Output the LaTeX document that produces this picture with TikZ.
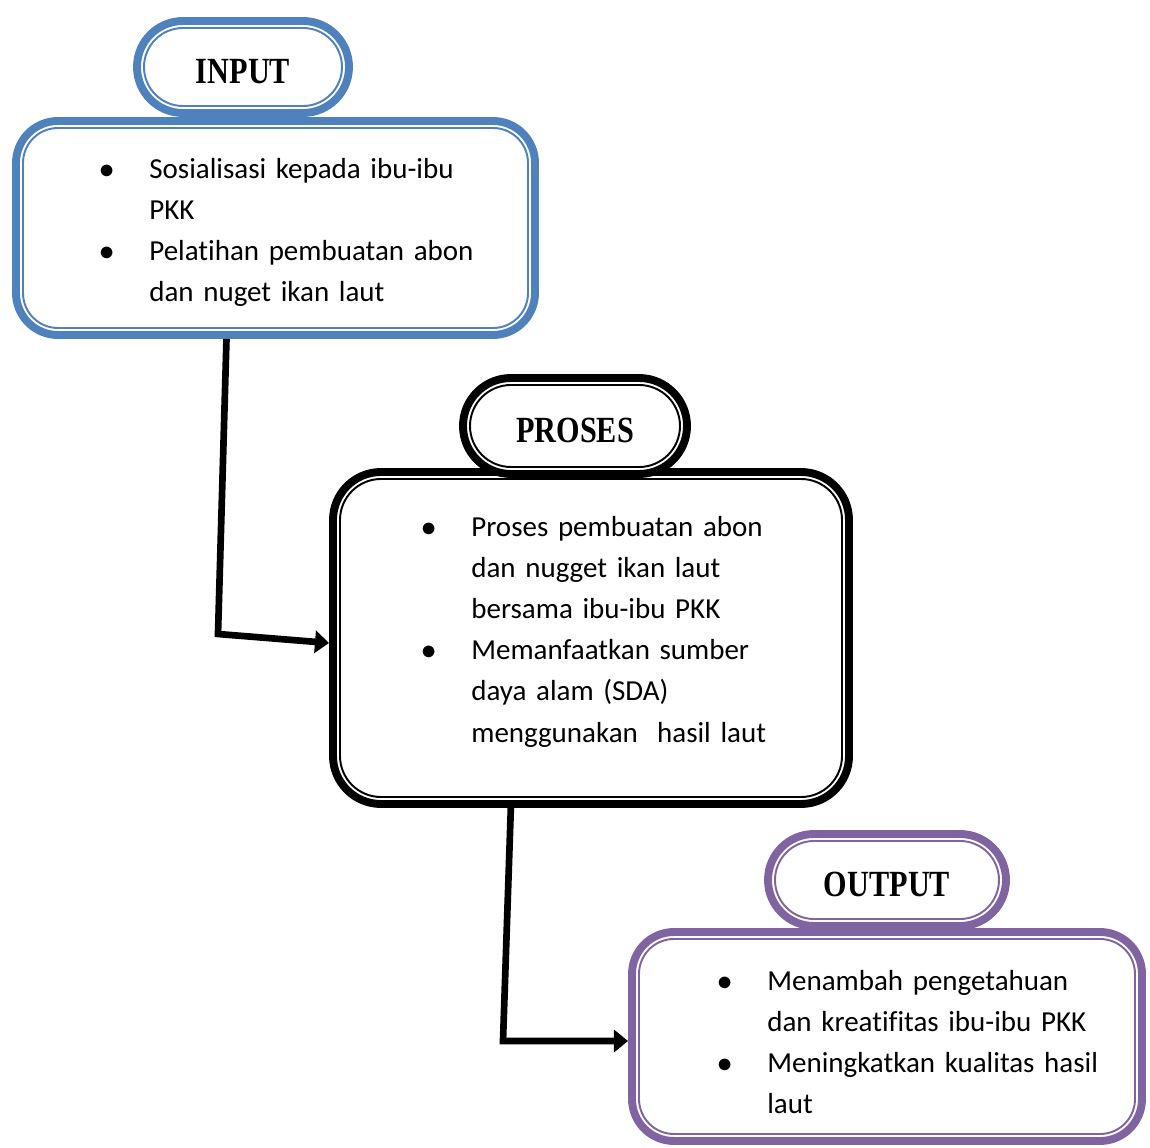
\documentclass[tikz,border=0pt]{standalone}
\usepackage{fontspec}
\setmainfont{Carlito}[Ligatures=NoCommon]
\newfontfamily\titlefont[FakeStretch=0.82]{Liberation Serif}
\usepackage{enumitem}
\usetikzlibrary{calc, arrows.meta}
\definecolor{inblue}{RGB}{79,129,189}
\definecolor{outviolet}{RGB}{128,100,162}

\begin{document}
\begin{tikzpicture}[x=0.02cm, y=-0.02cm,
    frame/.style={draw=#1, line width=4.5pt, fill=white, inner sep=0pt},
    thinframe/.style={draw=#1, line width=1.1pt, inner sep=0pt},
    ttl/.style={font=\titlefont\bfseries\fontsize{21}{21}\selectfont,
      text height=18.5pt, text depth=0pt},
    bullets/.style={anchor=north west, inner sep=0pt, text width=9cm, align=left,
      font=\fontsize{16.5}{23.4}\selectfont},
    flow/.style={line width=3.8pt, -{Triangle[length=8pt, width=12.5pt]}}]
      \def\pxu{0.02cm}%
      \useasboundingbox (0,0) rectangle (1150,1148);%

      % main boxes, thick line and thin line inside
      \node[frame=inblue, minimum width=519*\pxu, minimum height=214*\pxu,
        rounded corners=42*\pxu] (B_in) at (275.5,228) {};%
      \node[thinframe=inblue, minimum width=505*\pxu, minimum height=200*\pxu,
        rounded corners=35*\pxu] (B_in_i) at (B_in.center) {};%
      \node[frame=black, minimum width=516*\pxu, minimum height=332*\pxu,
        rounded corners=48*\pxu] (B_pr) at (591,638) {};%
      \node[thinframe=black, minimum width=502*\pxu, minimum height=318*\pxu,
        rounded corners=41*\pxu] (B_pr_i) at (B_pr.center) {};%
      \node[frame=outviolet, minimum width=510*\pxu, minimum height=209*\pxu,
        rounded corners=42*\pxu] (B_out) at (887,1036.5) {};%
      \node[thinframe=outviolet, minimum width=496*\pxu, minimum height=195*\pxu,
        rounded corners=35*\pxu] (B_out_i) at (B_out.center) {};%

      % title pills
      \node[frame=inblue, minimum width=212*\pxu, minimum height=92*\pxu,
        rounded corners=46*\pxu] (T_in) at (243,67) {};%
      \node[thinframe=inblue, ttl, minimum width=198*\pxu, minimum height=78*\pxu,
        rounded corners=39*\pxu] (T_in_i) at (T_in.center) {INPUT};%
      \node[frame=black, minimum width=224*\pxu, minimum height=96*\pxu,
        rounded corners=48*\pxu] (T_pr) at (575,426) {};%
      \node[thinframe=black, ttl, minimum width=210*\pxu, minimum height=82*\pxu,
        rounded corners=41*\pxu] (T_pr_i) at (T_pr.center) {PROSES};%
      \node[frame=outviolet, minimum width=238*\pxu, minimum height=92*\pxu,
        rounded corners=46*\pxu] (T_out) at (887,880) {};%
      \node[thinframe=outviolet, ttl, minimum width=224*\pxu, minimum height=78*\pxu,
        rounded corners=39*\pxu] (T_out_i) at (T_out.center) {OUTPUT};%

      % texts
      \setlist[itemize]{label=$\bullet$, leftmargin=1cm, labelsep=0.7cm,
        topsep=0pt, partopsep=0pt, itemsep=0pt, parsep=0pt}%
      \node[bullets] (L_in) at (99,137) {\begin{itemize}
          \item Sosialisasi kepada ibu-ibu\newline PKK
          \item Pelatihan pembuatan abon\newline dan nuget ikan laut
        \end{itemize}};%
      \node[bullets] (L_pr) at (421,495) {\begin{itemize}
          \item Proses pembuatan abon\newline dan nugget ikan laut\newline bersama ibu-ibu PKK
          \item Memanfaatkan sumber\newline daya alam (SDA)\newline menggunakan\ \ hasil laut
        \end{itemize}};%
      \node[bullets] (L_out) at (717,949) {\begin{itemize}
          \item Menambah pengetahuan\newline dan kreatifitas ibu-ibu PKK
          \item Meningkatkan kualitas hasil\newline laut
        \end{itemize}};%

      % arrows
      \coordinate (bendA) at (218,634);%
      \coordinate (bendB) at (503,1041);%
      \draw[flow] ($(B_in.south west)!0.407!(B_in.south east)$) -- (bendA)
        -- ($(B_pr.west)+(0,5)$);%
      \draw[flow] ($(B_pr.south west)!0.347!(B_pr.south east)$) -- (bendB)
        -- ($(B_out.west)+(0,4.5)$);%
    \end{tikzpicture}
\end{document}
